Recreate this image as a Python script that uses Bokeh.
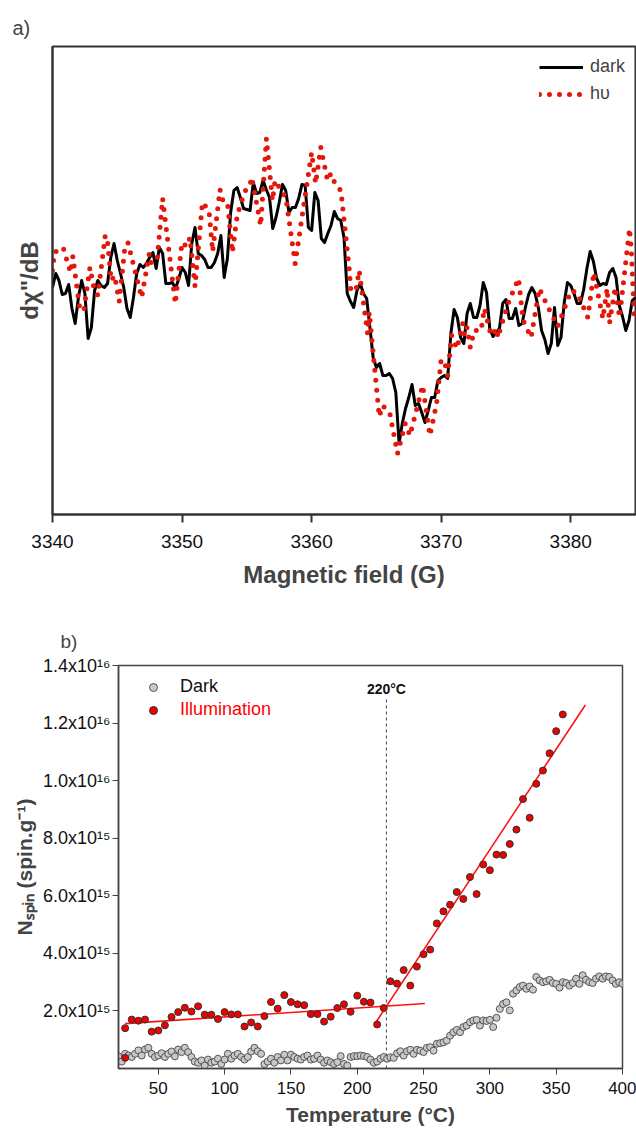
from bokeh.plotting import figure
from bokeh.models import Range1d, FixedTicker, Legend, LegendItem, Label
from bokeh.embed import file_html
from bokeh.resources import INLINE

FONT = "Liberation Sans"

# ---------------- panel a) : EPR spectra ----------------
field_ticks = [3340, 3350, 3360, 3370, 3380]

dark_field = [
    3340.0, 3340.25, 3340.5, 3340.75, 3341.0, 3341.25, 3341.5, 3341.75, 3342.0, 3342.25,
    3342.5, 3342.75, 3343.0, 3343.25, 3343.5, 3343.75, 3344.0, 3344.25, 3344.5, 3344.75,
    3345.0, 3345.25, 3345.5, 3345.75, 3346.0, 3346.25, 3346.5, 3346.75, 3347.0, 3347.25,
    3347.5, 3347.75, 3348.0, 3348.25, 3348.5, 3348.75, 3349.0, 3349.25, 3349.5, 3349.75,
    3350.0, 3350.25, 3350.5, 3350.75, 3351.0, 3351.25, 3351.5, 3351.75, 3352.0, 3352.25,
    3352.5, 3352.75, 3353.0, 3353.25, 3353.5, 3353.75, 3354.0, 3354.25, 3354.5, 3354.75,
    3355.0, 3355.25, 3355.5, 3355.75, 3356.0, 3356.25, 3356.5, 3356.75, 3357.0, 3357.25,
    3357.5, 3357.75, 3358.0, 3358.25, 3358.5, 3358.75, 3359.0, 3359.25, 3359.5, 3359.75,
    3360.0, 3360.25, 3360.5, 3360.75, 3361.0, 3361.25, 3361.5, 3361.75, 3362.0, 3362.25,
    3362.5, 3362.75, 3363.0, 3363.25, 3363.5, 3363.75, 3364.0, 3364.25, 3364.5, 3364.75,
    3365.0, 3365.25, 3365.5, 3365.75, 3366.0, 3366.25, 3366.5, 3366.75, 3367.0, 3367.25,
    3367.5, 3367.75, 3368.0, 3368.25, 3368.5, 3368.75, 3369.0, 3369.25, 3369.5, 3369.75,
    3370.0, 3370.25, 3370.5, 3370.75, 3371.0, 3371.25, 3371.5, 3371.75, 3372.0, 3372.25,
    3372.5, 3372.75, 3373.0, 3373.25, 3373.5, 3373.75, 3374.0, 3374.25, 3374.5, 3374.75,
    3375.0, 3375.25, 3375.5, 3375.75, 3376.0, 3376.25, 3376.5, 3376.75, 3377.0, 3377.25,
    3377.5, 3377.75, 3378.0, 3378.25, 3378.5, 3378.75, 3379.0, 3379.25, 3379.5, 3379.75,
    3380.0, 3380.25, 3380.5, 3380.75, 3381.0, 3381.25, 3381.5, 3381.75, 3382.0, 3382.25,
    3382.5, 3382.75, 3383.0, 3383.25, 3383.5, 3383.75, 3384.0, 3384.25, 3384.5, 3384.75,
    3385.0,
]
dark_signal = [
    227, 241, 234, 220, 221, 230, 206, 191, 217, 234, 221, 176, 187, 224, 234, 229, 227, 231, 257, 271,
    254, 241, 227, 206, 197, 217, 241, 250, 247, 251, 257, 262, 246, 267, 261, 231, 231, 232, 226, 236,
    247, 242, 229, 271, 287, 261, 259, 255, 247, 247, 252, 261, 279, 237, 256, 302, 324, 327, 317, 306,
    305, 304, 332, 321, 322, 334, 325, 317, 286, 297, 312, 330, 324, 302, 307, 307, 316, 330, 329, 287,
    284, 322, 314, 276, 272, 281, 289, 303, 296, 294, 277, 221, 213, 207, 224, 231, 221, 216, 187, 157,
    147, 151, 139, 139, 141, 136, 122, 71, 91, 106, 117, 130, 109, 111, 102, 92, 104, 117, 117, 134,
    137, 139, 136, 181, 205, 197, 177, 171, 201, 211, 197, 197, 209, 232, 222, 186, 178, 182, 186, 211,
    215, 196, 196, 206, 189, 191, 207, 220, 227, 221, 207, 184, 175, 161, 171, 207, 169, 177, 212, 232,
    229, 221, 211, 211, 225, 246, 263, 253, 236, 229, 231, 230, 242, 246, 237, 209, 198, 184, 194, 214,
    217,
]
hv_field = [
    3340.00, 3340.15, 3340.82, 3341.39, 3341.57, 3342.11, 3342.42, 3342.89, 3343.19, 3343.50,
    3344.07, 3344.22, 3344.53, 3344.79, 3345.15, 3345.56, 3345.82, 3346.88, 3347.47, 3347.62,
    3348.09, 3348.50, 3349.48, 3349.99, 3350.36, 3350.61, 3351.00, 3351.57, 3352.08, 3352.36,
    3352.93, 3353.11, 3353.50, 3353.88, 3354.27, 3354.84,
    3355.22, 3355.38, 3356.07, 3356.51, 3356.98, 3357.18, 3358.01, 3358.73, 3360.00, 3360.31,
    3360.71, 3361.23, 3361.48, 3361.87, 3362.26, 3362.90, 3363.03, 3363.42, 3363.67, 3364.32,
    3364.45, 3365.22, 3365.48, 3366.04, 3366.63, 3367.23, 3367.59, 3368.57, 3369.13, 3369.65,
    3369.99,
    3370.24, 3370.50, 3370.81, 3371.22, 3371.66, 3371.79, 3372.00, 3372.25, 3372.56, 3373.08,
    3373.33, 3373.85, 3374.31, 3374.37, 3375.19, 3375.97, 3376.33, 3376.94, 3377.58, 3378.18,
    3379.00, 3380.03, 3380.49, 3381.32, 3381.78, 3382.48, 3382.81, 3382.99, 3383.43, 3383.77,
    3384.54, 3384.67, 3384.92,
]
hv_signal = [
    244, 262, 267, 242, 258, 205, 204, 247, 227, 219,
    279, 277, 234, 239, 213, 264, 272, 217, 261, 251,
    257, 316, 211, 272, 268, 277, 228, 312, 304, 263,
    325, 315, 313, 262, 300, 323,
    329, 337, 289, 376, 314, 334, 317, 251, 362, 331,
    367, 334, 341, 329, 324, 246, 224, 224, 244, 181,
    202, 98, 109, 101, 61, 91, 79, 129, 79, 111,
    154,
    154, 139, 179, 166, 191, 179, 187, 167, 184, 184,
    206, 179, 186, 177, 212, 236, 194, 177, 226, 209,
    188, 224, 222, 197, 242, 196, 226, 191, 227, 197,
    286, 266, 194,
]

# ---------------- panel b) : spin count vs temperature ----------------
T_ticks = [50, 100, 150, 200, 250, 300, 350, 400]
N_ticks = [2, 4, 6, 8, 10, 12, 14]          # in units of 1e15 spin/g
N_tick_labels = ["2.0x10¹⁵", "4.0x10¹⁵", "6.0x10¹⁵", "8.0x10¹⁵",
                 "1.0x10¹⁶", "1.2x10¹⁶", "1.4x10¹⁶"]

dark_T = [
    20, 22.5, 25, 27.5, 30, 32.5, 35, 37.5, 40, 42.5, 45, 47.5, 50, 52.5, 55, 57.5, 60, 62.5, 65, 67.5,
    70, 72.5, 75, 77.5, 80, 82.5, 85, 87.5, 90, 92.5, 95, 97.5, 100, 102.5, 105, 107.5, 110, 112.5, 115, 117.5,
    120, 122.5, 125, 127.5, 130, 132.5, 135, 137.5, 140, 142.5, 145, 147.5, 150, 152.5, 155, 157.5, 160, 162.5, 165, 167.5,
    170, 172.5, 175, 177.5, 180, 182.5, 185, 187.5, 190, 192.5, 195, 197.5, 200, 202.5, 205, 207.5, 210, 212.5, 215, 217.5,
    220, 222.5, 225, 227.5, 230, 232.5, 235, 237.5, 240, 242.5, 245, 247.5, 250, 252.5, 255, 257.5, 260, 262.5, 265, 267.5,
    270, 272.5, 275, 277.5, 280, 282.5, 285, 287.5, 290, 292.5, 295, 297.5, 300, 302.5, 305, 307.5, 310, 312.5, 315, 317.5,
    320, 322.5, 325, 327.5, 330, 332.5, 335, 337.5, 340, 342.5, 345, 347.5, 350, 352.5, 355, 357.5, 360, 362.5, 365, 367.5,
    370, 372.5, 375, 377.5, 380, 382.5, 385, 387.5, 390, 392.5, 395, 397.5, 400,
]
dark_N = [
    0.42, 0.24, 0.51, 0.45, 0.40, 0.51, 0.63, 0.45, 0.66, 0.72,
    0.51, 0.40, 0.45, 0.53, 0.40, 0.51, 0.59, 0.42, 0.66, 0.57,
    0.72, 0.57, 0.40, 0.24, 0.20, 0.28, 0.10, 0.31, 0.20, 0.24,
    0.34, 0.16, 0.31, 0.51, 0.34, 0.45, 0.51, 0.40, 0.31, 0.40,
    0.59, 0.72, 0.60, 0.51, 0.15, 0.24, 0.34, 0.20, 0.40, 0.28,
    0.48, 0.28, 0.48, 0.40, 0.34, 0.31, 0.40, 0.45, 0.31, 0.34,
    0.45, 0.31, 0.20, 0.28, 0.22, 0.16, 0.22, 0.43, 0.16, 0.10,
    0.40, 0.43, 0.43, 0.45, 0.43, 0.40, 0.31, 0.20, 0.24, 0.34,
    0.40, 0.34,
    0.39, 0.37, 0.53, 0.60, 0.45, 0.60, 0.65, 0.51, 0.65, 0.62,
    0.57, 0.72, 0.74, 0.62, 0.86, 0.88, 0.91, 0.97, 1.14, 1.26,
    1.34, 1.26, 1.44, 1.49, 1.61, 1.67, 1.69, 1.49, 1.67, 1.65,
    1.69, 1.44, 1.76, 2.07, 2.24, 2.30, 2.02, 2.60, 2.71, 2.83,
    2.88, 2.77, 2.85, 2.74, 3.18, 3.06, 3.00, 3.03, 3.08, 2.97,
    2.94, 2.81, 3.00, 2.97, 2.88, 2.97, 3.12, 2.94, 3.24, 3.08,
    3.00, 2.97, 3.12, 3.20, 3.12, 3.20, 3.18, 3.06, 2.94, 3.00,
    2.94,
]
illum_T = [
    25, 25, 30, 35, 40, 45, 50, 55, 60, 65, 70, 75, 80, 85, 90, 95, 100, 105, 110, 115, 120,
    125, 130, 135, 140, 145, 150, 155, 160, 165, 170, 175, 180, 185, 190, 195, 200, 205, 210, 215, 220,
    225, 230, 235, 240, 245, 250, 255, 260, 265, 270, 275, 280, 285, 290, 295, 300, 305, 310, 315, 320,
    325, 330, 335, 340, 345, 350, 355,
]
illum_N = [
    0.37, 1.40, 1.70, 1.66, 1.70, 1.28, 1.32, 1.50, 1.79, 1.96, 2.11, 1.98, 2.16, 1.87, 1.87, 1.72, 1.96, 1.88, 1.88, 1.46, 1.60,
    1.46, 1.82, 2.31, 2.08, 2.55, 2.31, 2.23, 2.20, 1.89, 1.89, 1.63, 1.80, 2.10, 2.23, 1.97, 2.53, 2.32, 2.29, 1.53, 2.10,
    3.03, 2.95, 3.42, 2.88, 3.54, 3.97, 4.13, 5.04, 5.46, 5.69, 6.13, 5.89, 6.65, 6.06, 7.09, 6.89, 7.43, 7.42, 7.80, 8.30,
    9.36, 8.71, 9.89, 10.35, 10.95, 11.72, 12.30,
]
fit_low_T = [25, 251]
fit_low_N = [1.56, 2.26]
fit_high_T = [214, 372]
fit_high_N = [1.60, 12.63]
onset_T = 222
onset_top = 12.85
onset_text = "220°C"

# ================= figure a =================
pa = figure(frame_width=583, frame_height=468,
            x_range=Range1d(3340, 3385), y_range=Range1d(0, 468),
            output_backend="svg", toolbar_location=None,
            min_border_left=52, min_border_right=1, min_border_top=46, min_border_bottom=90)
pa.background_fill_color = "white"
pa.border_fill_color = "white"
pa.xgrid.visible = False
pa.ygrid.visible = False
pa.outline_line_color = "#333333"
pa.outline_line_width = 2
pa.outline_line_alpha = 1.0

pa.title.text = "a)"
pa.title.text_font = FONT
pa.title.text_font_size = "20px"
pa.title.text_font_style = "normal"
pa.title.align = "left"
pa.title.offset = -40
pa.title.standoff = 15

xa = pa.xaxis[0]
xa.ticker = FixedTicker(ticks=field_ticks)
xa.axis_label = "Magnetic field (G)"
xa.axis_label_text_font = FONT
xa.axis_label_text_font_size = "24px"
xa.axis_label_text_font_style = "bold"
xa.axis_label_standoff = 10
xa.major_label_text_font = FONT
xa.major_label_text_font_size = "19px"
xa.major_label_text_color = "#111111"
xa.major_label_standoff = 12
xa.major_tick_out = 8
xa.major_tick_in = 0
xa.minor_tick_out = 0
xa.minor_tick_in = 0
xa.axis_line_width = 2
xa.axis_line_color = "#333333"
xa.major_tick_line_width = 2
xa.major_tick_line_color = "#333333"

ya = pa.yaxis[0]
ya.ticker = FixedTicker(ticks=[])
ya.axis_label = 'dχ"/dB'
ya.axis_label_text_font = FONT
ya.axis_label_text_font_size = "24px"
ya.axis_label_text_font_style = "bold"
ya.axis_label_standoff = 10
ya.major_tick_out = 0
ya.major_tick_in = 0
ya.minor_tick_out = 0
ya.minor_tick_in = 0
ya.axis_line_width = 2
ya.axis_line_color = "#333333"

r_dark_a = pa.line(dark_field, dark_signal, line_color="black", line_width=3, line_join="round")
r_hv_a = pa.line(hv_field, hv_signal, line_color="#e3170a", line_width=5,
                 line_dash="0 10", line_cap="round", line_join="round")

leg_a = Legend(items=[LegendItem(label="dark", renderers=[r_dark_a]),
                      LegendItem(label="hυ", renderers=[r_hv_a])],
               location="top_right")
leg_a.label_text_font = FONT
leg_a.label_text_font_size = "18px"
leg_a.glyph_width = 44
leg_a.glyph_height = 20
leg_a.label_standoff = 7
leg_a.spacing = 6
leg_a.padding = 5
leg_a.margin = 5
leg_a.border_line_alpha = 0
leg_a.background_fill_alpha = 0
pa.add_layout(leg_a)

# ================= figure b =================
pb = figure(frame_width=504, frame_height=403,
            x_range=Range1d(20, 400), y_range=Range1d(0, 14),
            output_backend="svg", toolbar_location=None,
            min_border_left=118, min_border_right=14, min_border_top=61, min_border_bottom=0)
pb.background_fill_color = "white"
pb.border_fill_color = "white"
pb.xgrid.visible = False
pb.ygrid.visible = False
pb.outline_line_color = "#444444"
pb.outline_line_width = 1.5
pb.outline_line_alpha = 1.0

pb.title.text = "b)"
pb.title.text_font = FONT
pb.title.text_font_size = "19px"
pb.title.text_font_style = "normal"
pb.title.align = "left"
pb.title.offset = -58
pb.title.standoff = 28

xb = pb.xaxis[0]
xb.ticker = FixedTicker(ticks=T_ticks)
xb.axis_label = "Temperature (°C)"
xb.axis_label_text_font = FONT
xb.axis_label_text_font_size = "21px"
xb.axis_label_text_font_style = "bold"
xb.axis_label_standoff = 6
xb.major_label_text_font = FONT
xb.major_label_text_font_size = "17px"
xb.major_label_text_color = "#111111"
xb.major_label_standoff = 7
xb.major_tick_out = 6
xb.major_tick_in = 0
xb.minor_tick_out = 0
xb.minor_tick_in = 0
xb.axis_line_width = 1.5
xb.axis_line_color = "#444444"
xb.major_tick_line_color = "#444444"

yb = pb.yaxis[0]
yb.ticker = FixedTicker(ticks=N_ticks)
yb.major_label_overrides = {t: s for t, s in zip(N_ticks, N_tick_labels)}
yb.axis_label = "Nₛₚᵢₙ (spin.g⁻¹)"
yb.axis_label_text_font = FONT
yb.axis_label_text_font_size = "21px"
yb.axis_label_text_font_style = "bold"
yb.axis_label_standoff = 4
yb.major_label_text_font = FONT
yb.major_label_text_font_size = "18px"
yb.major_label_text_color = "#111111"
yb.major_label_standoff = 2
yb.major_tick_out = 6
yb.major_tick_in = 0
yb.minor_tick_out = 0
yb.minor_tick_in = 0
yb.axis_line_width = 1.5
yb.axis_line_color = "#444444"
yb.major_tick_line_color = "#444444"

pb.segment(x0=[onset_T], y0=[0], x1=[onset_T], y1=[onset_top],
           line_color="#444444", line_width=1, line_dash="3 3")
pb.line(fit_low_T, fit_low_N, line_color="#ff1010", line_width=1.6)
pb.line(fit_high_T, fit_high_N, line_color="#ff1010", line_width=1.6)
r_dark_b = pb.scatter(dark_T, dark_N, size=7, fill_color="#c8c8c8",
                      line_color="#555555", line_width=1)
r_ill_b = pb.scatter(illum_T, illum_N, size=7, fill_color="#ee0000",
                     line_color="#333333", line_width=1)

pb.add_layout(Label(x=onset_T, y=onset_top + 0.05, text=onset_text, text_align="center",
                    text_baseline="bottom", text_font=FONT,
                    text_font_size="14px", text_font_style="bold", text_color="#111111"))

# location y = distance of the legend's bottom edge above the frame bottom (px)
for lab, rend, col, bottom in [("Dark", r_dark_b, "#111111", 371),
                               ("Illumination", r_ill_b, "#ff0000", 348)]:
    lg = Legend(items=[LegendItem(label=lab, renderers=[rend])], location=(25, bottom))
    lg.label_text_font = FONT
    lg.label_text_font_size = "18px"
    lg.label_text_color = col
    lg.glyph_width = 20
    lg.glyph_height = 20
    lg.label_standoff = 17
    lg.padding = 0
    lg.margin = 0
    lg.border_line_alpha = 0
    lg.background_fill_alpha = 0
    pb.add_layout(lg)

open("out.html", "w").write(file_html([pa, pb], INLINE))
